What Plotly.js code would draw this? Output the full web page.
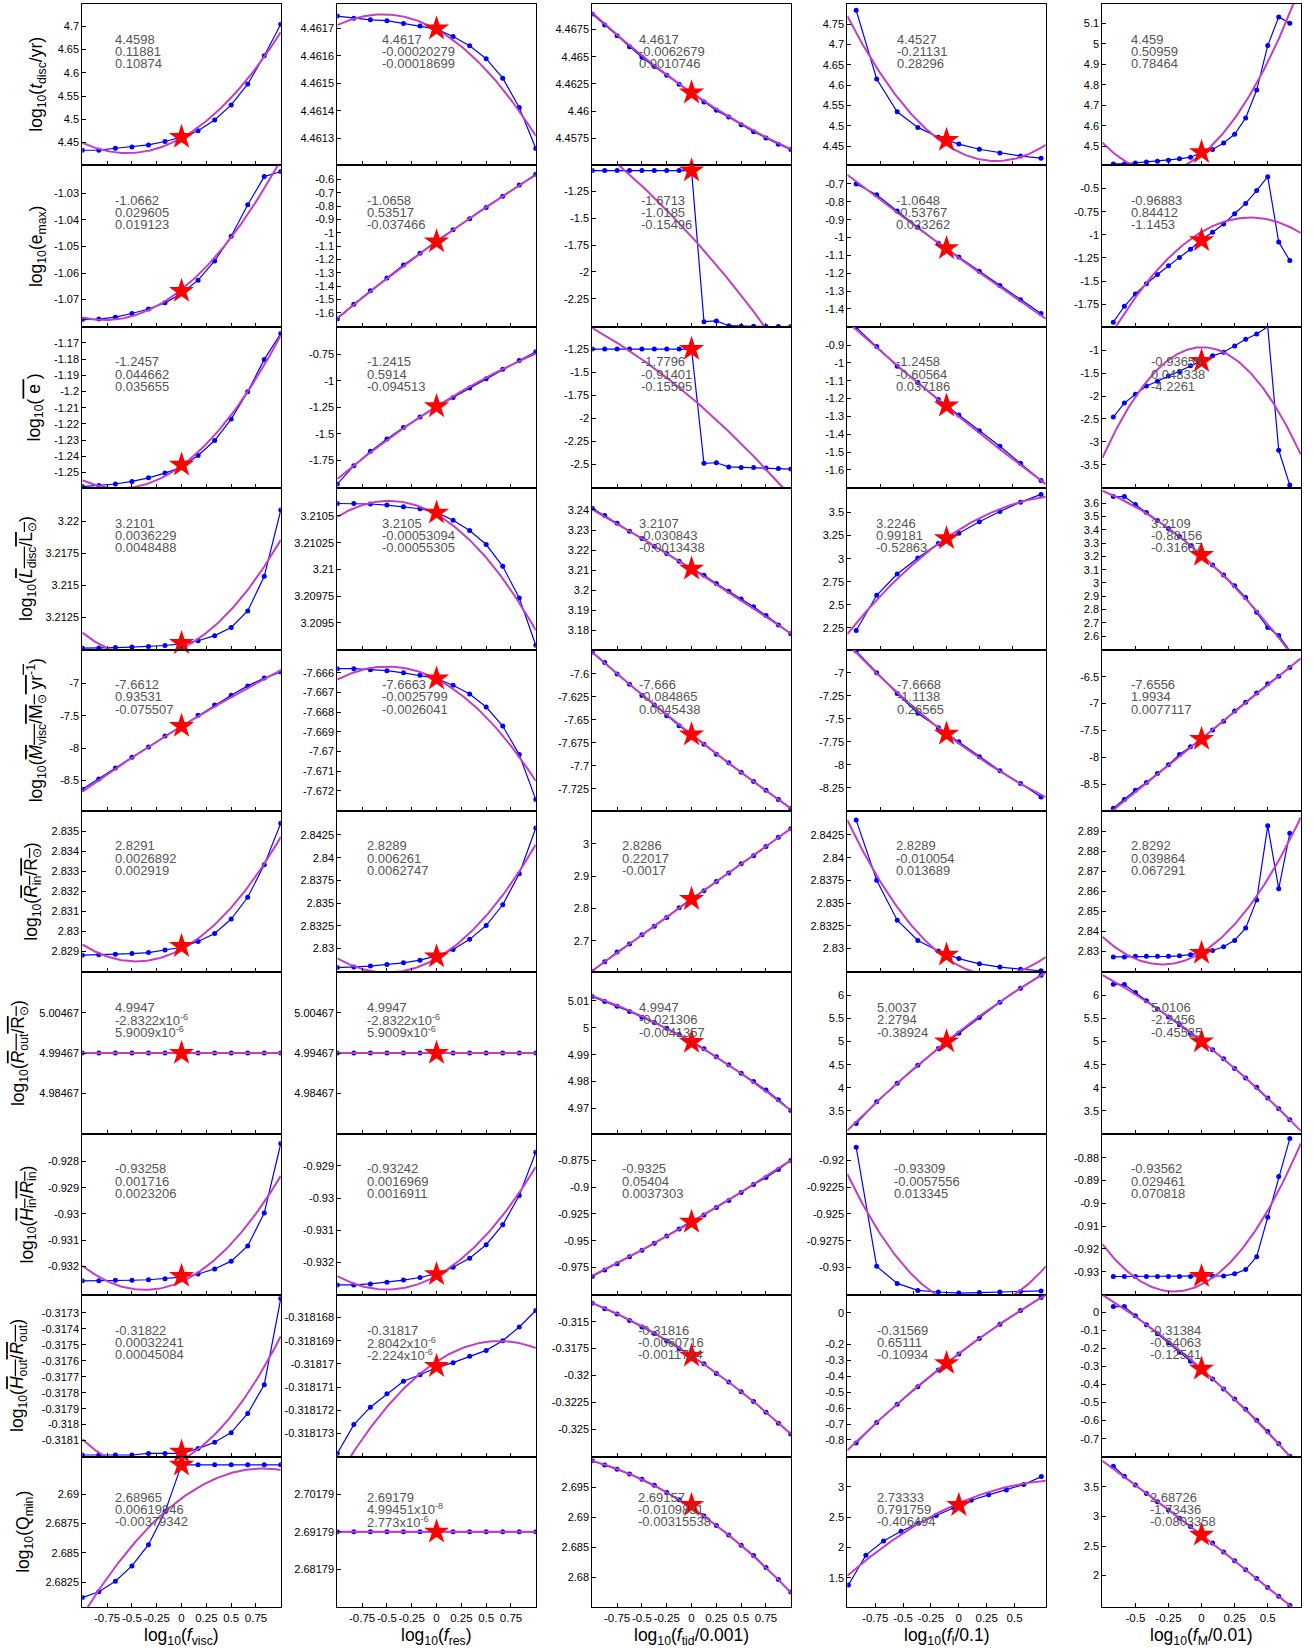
<!DOCTYPE html>
<html><head><meta charset="utf-8">
<script src="https://cdn.plot.ly/plotly-3.0.1.min.js"></script>
<style>html,body{margin:0;padding:0;background:#fff}</style>
</head><body><div id="chart" style="width:1314px;height:1649px"></div>
<script>
// ---------------- DATA ----------------
const X_VISC = [-1, -0.8333, -0.6667, -0.5, -0.3333, -0.1667, 0, 0.1667, 0.3333, 0.5, 0.6667, 0.8333, 1];
const X_RES  = [-1, -0.8333, -0.6667, -0.5, -0.3333, -0.1667, 0, 0.1667, 0.3333, 0.5, 0.6667, 0.8333, 1];
const X_TID  = [-1, -0.875, -0.75, -0.625, -0.5, -0.375, -0.25, -0.125, 0, 0.125, 0.25, 0.375, 0.5, 0.625, 0.75, 0.875, 1];
const X_FL   = [-0.683, -0.528, -0.373, -0.217, -0.062, 0.093, 0.248, 0.403, 0.559, 0.714];
const X_FL_Q = [-0.99, -0.833, -0.675, -0.518, -0.361, -0.203, -0.046, 0.111, 0.268, 0.426, 0.583, 0.74];
const X_FM   = [-0.6667, -0.5833, -0.5, -0.4167, -0.3333, -0.25, -0.1667, -0.0833, 0, 0.0833, 0.1667, 0.25, 0.3333, 0.4167, 0.5, 0.5833, 0.6667];

// column 1 : f_visc
const visc_tdisc = [4.4334, 4.4336, 4.4377, 4.4406, 4.4449, 4.4522, 4.4617, 4.4753, 4.4984, 4.5309, 4.5757, 4.6364, 4.7043];
const visc_emax  = [-1.0775, -1.0773, -1.0766, -1.0752, -1.0735, -1.0712, -1.0677, -1.0627, -1.0555, -1.0462, -1.0344, -1.0238, -1.0219];
const visc_ebar  = [-1.2586, -1.258, -1.257, -1.2554, -1.2532, -1.2503, -1.2465, -1.2394, -1.2302, -1.217, -1.2001, -1.1802, -1.1642];
const visc_ldisc = [3.21012, 3.21012, 3.21016, 3.2102, 3.21024, 3.21032, 3.21044, 3.21069, 3.21109, 3.21173, 3.21302, 3.21573, 3.22089];
const visc_mvisc = [-8.635, -8.475, -8.308, -8.14, -7.981, -7.813, -7.654, -7.494, -7.335, -7.183, -7.04, -6.92, -6.825];
const visc_rin   = [2.82879, 2.82881, 2.82884, 2.82887, 2.82892, 2.82905, 2.82919, 2.82948, 2.82988, 2.8306, 2.83169, 2.83332, 2.8354];
const visc_rout  = [4.99467, 4.99467, 4.99467, 4.99467, 4.99467, 4.99467, 4.99467, 4.99467, 4.99467, 4.99467, 4.99467, 4.99467, 4.99467];
const visc_hin   = [-0.93255, -0.93255, -0.93253, -0.93253, -0.93251, -0.93247, -0.93241, -0.93229, -0.9321, -0.9318, -0.93122, -0.92996, -0.92731];
const visc_hout  = [-0.31819, -0.31819, -0.31819, -0.31819, -0.31818, -0.31818, -0.31818, -0.31815, -0.31811, -0.31805, -0.31793, -0.31775, -0.31721];
const visc_qmin  = [2.6812, 2.6817, 2.6826, 2.6839, 2.6857, 2.6885, 2.6925, 2.6925, 2.6925, 2.6925, 2.6925, 2.6925, 2.6925];
const visc_star  = [4.4617, -1.0668, -1.2452, 3.2105, -7.66, 2.82924, 4.99467, -0.93237, -0.31817, 2.6925];
const visc_a = [4.4598, -1.0662, -1.2457, 3.2101, -7.6612, 2.8291, 4.99467, -0.93258, -0.31822, 2.68965];
const visc_b = [0.11881, 0.029605, 0.044662, 0.0036229, 0.93531, 0.0026892, -2.8322e-6, 0.001716, 0.00032241, 0.00619946];
const visc_c = [0.10874, 0.019123, 0.035655, 0.0048488, -0.075507, 0.002919, 5.9009e-6, 0.0023206, 0.00045084, -0.00379342];
const visc_text = [
  ['4.4598', '0.11881', '0.10874'], ['-1.0662', '0.029605', '0.019123'], ['-1.2457', '0.044662', '0.035655'],
  ['3.2101', '0.0036229', '0.0048488'], ['-7.6612', '0.93531', '-0.075507'], ['2.8291', '0.0026892', '0.002919'],
  ['4.9947', '-2.8322x10<sup>-6</sup>', '5.9009x10<sup>-6</sup>'], ['-0.93258', '0.001716', '0.0023206'],
  ['-0.31822', '0.00032241', '0.00045084'], ['2.68965', '0.00619946', '-0.00379342']];

// column 2 : f_res
const res_tdisc = [4.461746, 4.461738, 4.461732, 4.461729, 4.461719, 4.46171, 4.461698, 4.461671, 4.461637, 4.46159, 4.461519, 4.461412, 4.461262];
const res_emax  = [-1.646, -1.535, -1.435, -1.338, -1.242, -1.154, -1.062, -0.977, -0.896, -0.812, -0.727, -0.642, -0.562];
const res_ebar  = [-1.975, -1.804, -1.667, -1.549, -1.441, -1.343, -1.245, -1.157, -1.069, -0.98, -0.892, -0.809, -0.725];
const res_ldisc = [3.210617, 3.210617, 3.210612, 3.210602, 3.210587, 3.210568, 3.210534, 3.210461, 3.210364, 3.210233, 3.210029, 3.209733, 3.209291];
const res_mvisc = [-7.66579, -7.66579, -7.66584, -7.66589, -7.666, -7.66613, -7.66629, -7.66663, -7.66708, -7.66774, -7.66871, -7.67016, -7.67245];
const res_rin   = [2.82789, 2.82795, 2.82806, 2.82824, 2.82842, 2.82871, 2.82918, 2.82988, 2.831, 2.83252, 2.83481, 2.83822, 2.84326];
const res_rout  = [4.99467, 4.99467, 4.99467, 4.99467, 4.99467, 4.99467, 4.99467, 4.99467, 4.99467, 4.99467, 4.99467, 4.99467, 4.99467];
const res_hin   = [-0.9327, -0.9327, -0.93267, -0.93262, -0.93255, -0.93247, -0.93235, -0.93215, -0.93187, -0.93145, -0.93083, -0.92992, -0.92857];
const res_hout  = [-0.31817386, -0.31817262, -0.31817187, -0.31817129, -0.31817075, -0.31817047, -0.31817016, -0.31816995, -0.31816967, -0.31816942, -0.318169, -0.31816841, -0.3181677];
const res_qmin  = [2.69179, 2.69179, 2.69179, 2.69179, 2.69179, 2.69179, 2.69179, 2.69179, 2.69179, 2.69179, 2.69179, 2.69179, 2.69179];
const res_star  = [4.4617, -1.066, -1.242, 3.21053, -7.6663, 2.8291, 4.99467, -0.93237, -0.3181701, 2.69179];
const res_a = [4.461697, -1.0658, -1.2415, 3.210514, -7.66632, 2.8289, 4.99467, -0.93242, -0.3181699, 2.69179];
const res_b = [-0.00020279, 0.53517, 0.5914, -0.00053094, -0.0025799, 0.006261, -2.8322e-6, 0.0016969, 2.8042e-6, 4.99451e-8];
const res_c = [-0.00018699, -0.037466, -0.094513, -0.00055305, -0.0026041, 0.0062747, 5.9009e-6, 0.0016911, -2.224e-6, 2.773e-6];
const res_text = [
  ['4.4617', '-0.00020279', '-0.00018699'], ['-1.0658', '0.53517', '-0.037466'], ['-1.2415', '0.5914', '-0.094513'],
  ['3.2105', '-0.00053094', '-0.00055305'], ['-7.6663', '-0.0025799', '-0.0026041'], ['2.8289', '0.006261', '0.0062747'],
  ['4.9947', '-2.8322x10<sup>-6</sup>', '5.9009x10<sup>-6</sup>'], ['-0.93242', '0.0016969', '0.0016911'],
  ['-0.31817', '2.8042x10<sup>-6</sup>', '-2.224x10<sup>-6</sup>'], ['2.69179', '4.99451x10<sup>-8</sup>', '2.773x10<sup>-6</sup>']];

// column 3 : f_tid
const tid_tdisc = [4.46894, 4.46793, 4.46693, 4.46592, 4.46496, 4.4641, 4.46329, 4.46247, 4.4617, 4.46084, 4.46007, 4.45945, 4.45874, 4.45811, 4.45754, 4.45696, 4.45648];
const tid_emax  = [-1.058, -1.058, -1.058, -1.058, -1.058, -1.058, -1.058, -1.058, -1.058, -2.462, -2.455, -2.5, -2.505, -2.506, -2.507, -2.507, -2.508];
const tid_ebar  = [-1.25, -1.25, -1.25, -1.25, -1.25, -1.25, -1.25, -1.25, -1.25, -2.489, -2.483, -2.528, -2.534, -2.534, -2.539, -2.545, -2.551];
const tid_ldisc = [3.24077, 3.23716, 3.2333, 3.22943, 3.22582, 3.22196, 3.21835, 3.21448, 3.21113, 3.20753, 3.2034, 3.19954, 3.19567, 3.1918, 3.18742, 3.18278, 3.1784];
const tid_mvisc = [-7.5764, -7.5876, -7.6, -7.6113, -7.6231, -7.6338, -7.6456, -7.6563, -7.6664, -7.6766, -7.6873, -7.6968, -7.707, -7.7171, -7.7267, -7.7368, -7.7464];
const tid_rin   = [2.605, 2.635, 2.665, 2.69, 2.7183, 2.745, 2.7717, 2.8017, 2.8317, 2.855, 2.8833, 2.91, 2.9383, 2.9633, 2.9917, 3.02, 3.0467];
const tid_rout  = [5.0116, 5.0098, 5.008, 5.0061, 5.0039, 5.002, 4.9998, 4.9975, 4.9951, 4.9922, 4.9892, 4.9863, 4.9831, 4.98, 4.9769, 4.9733, 4.9693];
const tid_hin   = [-0.9835, -0.9775, -0.9715, -0.965, -0.959, -0.9525, -0.9455, -0.939, -0.9315, -0.926, -0.919, -0.9125, -0.905, -0.8975, -0.891, -0.8835, -0.875];
const tid_hout  = [-0.3133, -0.3138, -0.3143, -0.3149, -0.3155, -0.3161, -0.3168, -0.3175, -0.3182, -0.3189, -0.3198, -0.3206, -0.3215, -0.3224, -0.3234, -0.3244, -0.3254];
const tid_qmin  = [2.6994, 2.6987, 2.698, 2.6972, 2.6963, 2.6953, 2.6941, 2.6929, 2.6916, 2.6902, 2.6886, 2.687, 2.6853, 2.6836, 2.6816, 2.6796, 2.6775];
const tid_star  = [4.4617, -1.058, -1.25, 3.2107, -7.666, 2.8286, 4.9947, -0.9325, -0.31816, 2.692];
const tid_a = [4.4617, -1.6713, -1.7796, 3.2107, -7.666, 2.8286, 4.9947, -0.9325, -0.31816, 2.69157];
const tid_b = [-0.0062679, -1.0185, -0.91401, -0.030843, -0.084865, 0.22017, -0.021306, 0.05404, -0.0060716, -0.0109831];
const tid_c = [0.0010746, -0.15496, -0.15595, -0.0013438, 0.0045438, -0.0017, -0.0041357, 0.0037303, -0.0011724, -0.00315538];
const tid_text = [
  ['4.4617', '-0.0062679', '0.0010746'], ['-1.6713', '-1.0185', '-0.15496'], ['-1.7796', '-0.91401', '-0.15595'],
  ['3.2107', '-0.030843', '-0.0013438'], ['-7.666', '-0.084865', '0.0045438'], ['2.8286', '0.22017', '-0.0017'],
  ['4.9947', '-0.021306', '-0.0041357'], ['-0.9325', '0.05404', '0.0037303'],
  ['-0.31816', '-0.0060716', '-0.0011724'], ['2.69157', '-0.0109831', '-0.00315538']];

// column 4 : f_l
const fl_tdisc = [4.7846, 4.6154, 4.5346, 4.4962, 4.4718, 4.4551, 4.4423, 4.4333, 4.4256, 4.4205];
const fl_emax  = [-0.7, -0.76, -0.8514, -0.9429, -1.0314, -1.1086, -1.1886, -1.2686, -1.3486, -1.4257];
const fl_ebar  = [-0.8012, -0.9087, -1.0192, -1.1093, -1.2052, -1.2924, -1.3797, -1.4669, -1.5628, -1.6587];
const fl_ldisc = [2.222, 2.603, 2.833, 3.007, 3.164, 3.276, 3.399, 3.511, 3.612, 3.696];
const fl_mvisc = [-6.7635, -7.0, -7.2252, -7.4392, -7.5968, -7.7489, -7.9122, -8.0642, -8.205, -8.3514];
const fl_rin   = [2.84414, 2.83751, 2.83311, 2.83088, 2.82971, 2.82888, 2.8283, 2.82795, 2.82771, 2.82754];
const fl_rout  = [3.23, 3.7, 4.099, 4.486, 4.85, 5.178, 5.519, 5.847, 6.153, 6.434];
const fl_hin   = [-0.91875, -0.9299, -0.9315, -0.93215, -0.9323, -0.9324, -0.93235, -0.9323, -0.93225, -0.9322];
const fl_hout  = [-0.82, -0.69, -0.575, -0.465, -0.36, -0.26, -0.163, -0.073, 0.014, 0.095];
const fl_qmin  = [1.384, 1.875, 2.107, 2.268, 2.4, 2.53, 2.66, 2.78, 2.87, 2.95, 3.04, 3.17];
const fl_star  = [4.465, -1.06, -1.24, 3.22, -7.664, 2.8293, 5.0, null, -0.318, 2.7];
const fl_a = [4.4527, -1.0648, -1.2458, 3.2246, -7.6668, 2.8289, 5.0037, -0.93309, -0.31569, 2.73333];
const fl_b = [-0.21131, -0.53767, -0.60564, 0.99181, -1.1138, -0.010054, 2.2794, -0.0057556, 0.65111, 0.791759];
const fl_c = [0.28296, 0.023262, 0.037186, -0.52863, 0.26565, 0.013689, -0.38924, 0.013345, -0.10934, -0.406494];
const fl_text = [
  ['4.4527', '-0.21131', '0.28296'], ['-1.0648', '-0.53767', '0.023262'], ['-1.2458', '-0.60564', '0.037186'],
  ['3.2246', '0.99181', '-0.52863'], ['-7.6668', '-1.1138', '0.26565'], ['2.8289', '-0.010054', '0.013689'],
  ['5.0037', '2.2794', '-0.38924'], ['-0.93309', '-0.0057556', '0.013345'],
  ['-0.31569', '0.65111', '-0.10934'], ['2.73333', '0.791759', '-0.406494']];

// column 5 : f_M
const fm_tdisc = [4.413, 4.413, 4.418, 4.423, 4.426, 4.431, 4.438, 4.446, 4.469, 4.484, 4.515, 4.558, 4.637, 4.774, 4.991, 5.131, 5.1];
const fm_emax  = [-1.944, -1.772, -1.639, -1.528, -1.428, -1.333, -1.244, -1.156, -1.05, -0.972, -0.883, -0.772, -0.661, -0.522, -0.372, -1.078, -1.278];
const fm_ebar  = [-2.459, -2.154, -1.962, -1.781, -1.679, -1.566, -1.464, -1.339, -1.226, -1.124, -1.045, -0.91, -0.762, -0.649, -0.49, -3.183, -3.941];
const fm_ldisc = [3.65, 3.65, 3.59, 3.53, 3.47, 3.41, 3.35, 3.28, 3.21, 3.135, 3.06, 2.98, 2.89, 2.78, 2.665, 2.605, 2.49];
const fm_mvisc = [-8.948, -8.786, -8.614, -8.471, -8.3, -8.138, -7.948, -7.805, -7.662, -7.49, -7.329, -7.138, -6.976, -6.805, -6.633, -6.49, -6.329];
const fm_rin   = [2.82707, 2.82707, 2.82733, 2.82733, 2.82733, 2.82733, 2.8276, 2.82813, 2.82893, 2.83027, 2.83213, 2.83533, 2.84147, 2.8556, 2.89267, 2.8612, 2.88893];
const fm_rout  = [6.235, 6.23, 6.06, 5.88, 5.7, 5.53, 5.36, 5.18, 5.01, 4.82, 4.63, 4.42, 4.21, 4.01, 3.78, 3.55, 3.31];
const fm_hin   = [-0.93211, -0.93211, -0.93211, -0.93211, -0.93211, -0.93211, -0.93211, -0.93211, -0.93211, -0.93188, -0.93188, -0.93094, -0.92906, -0.92343, -0.90606, -0.88822, -0.87155];
const fm_hout  = [0.03, 0.03, -0.02, -0.07, -0.12, -0.17, -0.222, -0.272, -0.314, -0.37, -0.425, -0.48, -0.537, -0.598, -0.66, -0.728, -0.797];
const fm_qmin  = [3.85, 3.68, 3.53, 3.39, 3.25, 3.11, 2.97, 2.83, 2.69, 2.55, 2.4, 2.25, 2.1, 1.95, 1.8, 1.65, 1.5];
const fm_star  = [4.47, -1.06, -1.24, 3.21, -7.66, 2.829, 5.0, -0.932, -0.314, 2.69];
const fm_a = [4.459, -0.96883, -0.93656, 3.2109, -7.6556, 2.8292, 5.0106, -0.93562, -0.31384, 2.68726];
const fm_b = [0.50959, 0.84412, 0.048338, -0.88156, 1.9934, 0.039864, -2.2456, 0.029461, -0.64063, -1.73436];
const fm_c = [0.78464, -1.1453, -4.2261, -0.31607, 0.0077117, 0.067291, -0.45535, 0.070818, -0.12541, -0.0803358];
const fm_text = [
  ['4.459', '0.50959', '0.78464'], ['-0.96883', '0.84412', '-1.1453'], ['-0.93656', '0.048338', '-4.2261'],
  ['3.2109', '-0.88156', '-0.31607'], ['-7.6556', '1.9934', '0.0077117'], ['2.8292', '0.039864', '0.067291'],
  ['5.0106', '-2.2456', '-0.45535'], ['-0.93562', '0.029461', '0.070818'],
  ['-0.31384', '-0.64063', '-0.12541'], ['2.68726', '-1.73436', '-0.0803358']];

// tick labels
const visc_yticks = [['4.45','4.5','4.55','4.6','4.65','4.7'], ['-1.07','-1.06','-1.05','-1.04','-1.03'],
  ['-1.25','-1.24','-1.23','-1.22','-1.21','-1.2','-1.19','-1.18','-1.17'], ['3.2125','3.215','3.2175','3.22'],
  ['-8.5','-8','-7.5','-7'], ['2.829','2.83','2.831','2.832','2.833','2.834','2.835'], ['4.98467','4.99467','5.00467'],
  ['-0.932','-0.931','-0.93','-0.929','-0.928'], ['-0.3181','-0.318','-0.3179','-0.3178','-0.3177','-0.3176','-0.3175','-0.3174','-0.3173'],
  ['2.6825','2.685','2.6875','2.69']];
const res_yticks = [['4.4613','4.4614','4.4615','4.4616','4.4617'], ['-1.6','-1.5','-1.4','-1.3','-1.2','-1.1','-1','-0.9','-0.8','-0.7','-0.6'],
  ['-1.75','-1.5','-1.25','-1','-0.75'], ['3.2095','3.20975','3.21','3.21025','3.2105'],
  ['-7.672','-7.671','-7.67','-7.669','-7.668','-7.667','-7.666'], ['2.83','2.8325','2.835','2.8375','2.84','2.8425'],
  ['4.98467','4.99467','5.00467'], ['-0.932','-0.931','-0.93','-0.929'],
  ['-0.318173','-0.318172','-0.318171','-0.31817','-0.318169','-0.318168'], ['2.68179','2.69179','2.70179']];
const tid_yticks = [['4.4575','4.46','4.4625','4.465','4.4675'], ['-2.25','-2','-1.75','-1.5','-1.25'],
  ['-2.5','-2.25','-2','-1.75','-1.5','-1.25'], ['3.18','3.19','3.2','3.21','3.22','3.23','3.24'],
  ['-7.725','-7.7','-7.675','-7.65','-7.625','-7.6'], ['2.7','2.8','2.9','3'], ['4.97','4.98','4.99','5','5.01'],
  ['-0.975','-0.95','-0.925','-0.9','-0.875'], ['-0.325','-0.3225','-0.32','-0.3175','-0.315'], ['2.68','2.685','2.69','2.695']];
const fl_yticks = [['4.45','4.5','4.55','4.6','4.65','4.7','4.75'], ['-1.4','-1.3','-1.2','-1.1','-1','-0.9','-0.8','-0.7'],
  ['-1.6','-1.5','-1.4','-1.3','-1.2','-1.1','-1','-0.9'], ['2.25','2.5','2.75','3','3.25','3.5'],
  ['-8.25','-8','-7.75','-7.5','-7.25','-7'], ['2.83','2.8325','2.835','2.8375','2.84','2.8425'], ['3.5','4','4.5','5','5.5','6'],
  ['-0.93','-0.9275','-0.925','-0.9225','-0.92'], ['-0.8','-0.7','-0.6','-0.5','-0.4','-0.3','-0.2','0'], ['1.5','2','2.5','3']];
const fm_yticks = [['4.5','4.6','4.7','4.8','4.9','5','5.1'], ['-1.75','-1.5','-1.25','-1','-0.75','-0.5'],
  ['-3.5','-3','-2.5','-2','-1.5','-1'], ['2.6','2.7','2.8','2.9','3','3.1','3.2','3.3','3.4','3.5','3.6'],
  ['-8.5','-8','-7.5','-7','-6.5'], ['2.83','2.84','2.85','2.86','2.87','2.88','2.89'], ['3.5','4','4.5','5','5.5','6'],
  ['-0.93','-0.92','-0.91','-0.9','-0.89','-0.88'], ['-0.7','-0.6','-0.5','-0.4','-0.3','-0.2','-0.1','0'], ['2','2.5','3','3.5']];
const XTICKS_WIDE = ['-0.75','-0.5','-0.25','0','0.25','0.5','0.75'];
const XTICKS_FL_Q = ['-0.75','-0.5','-0.25','0','0.25','0.5'];
const XTICKS_NARROW = ['-0.5','-0.25','0','0.25','0.5'];

const Y_TITLES = [
  'log<sub>10</sub>(<i>t</i><sub>disc</sub>/yr)',
  'log<sub>10</sub>(e<sub>max</sub>)',
  'log<sub>10</sub>(<span style="text-decoration:overline"> e </span>)',
  'log<sub>10</sub>(<span style="text-decoration:overline"><i>L</i><sub>disc</sub>/L<sub>⊙</sub></span>)',
  'log<sub>10</sub>(<span style="text-decoration:overline"><i>Ṁ</i><sub>visc</sub>/M<sub>⊙</sub> yr<sup>-1</sup></span>)',
  'log<sub>10</sub>(<span style="text-decoration:overline"><i>R</i><sub>in</sub>/R<sub>⊙</sub></span>)',
  'log<sub>10</sub>(<span style="text-decoration:overline"><i>R</i><sub>out</sub>/R<sub>⊙</sub></span>)',
  'log<sub>10</sub>(<span style="text-decoration:overline"><i>H</i><sub>in</sub>/<i>R</i><sub>in</sub></span>)',
  'log<sub>10</sub>(<span style="text-decoration:overline"><i>H</i><sub>out</sub>/<i>R</i><sub>out</sub></span>)',
  'log<sub>10</sub>(Q<sub>min</sub>)'];
const X_TITLES = ['log<sub>10</sub>(<i>f</i><sub>visc</sub>)', 'log<sub>10</sub>(<i>f</i><sub>res</sub>)',
  'log<sub>10</sub>(<i>f</i><sub>tid</sub>/0.001)', 'log<sub>10</sub>(<i>f</i><sub>l</sub>/0.1)', 'log<sub>10</sub>(<i>f</i><sub>M</sub>/0.01)'];

// ---------------- LAYOUT CONFIG ----------------
const W = 1314, H = 1649;
const COL_LEFT = [82.3, 337.3, 592.3, 847.3, 1102.3];
const PANEL_W = 198.5;
const ROW_TOP = [4, 165.4, 326.8, 488.2, 649.6, 811, 972.4, 1133.8, 1295.2, 1456.6];
const ROW_BOT = [165.4, 326.8, 488.2, 649.6, 811, 972.4, 1133.8, 1295.2, 1456.6, 1607];
const YTITLE_X = [38, 37, 35, 28, 36, 33, 19, 28, 19, 25];
const LABEL_DX = [
  [31,31,31,31,31,31,31,31,31,31],
  [43,28,28,43,43,28,28,28,28,28],
  [45,47,47,45,45,28,45,28,44,44],
  [48,47,47,27,48,47,28,45,28,28],
  [27,27,47,47,27,27,47,27,46,46]];
const LABEL_DY = [35, 47.3, 59.6];
const LABEL_DY_LAST = [40.5, 52.8, 65.1];
const Y_RANGE = [
  [[4.4009,4.7477],[-1.0802,-1.0196],[-1.2596,-1.1601],[3.21,3.2226],[-8.97,-6.48],[2.82793,2.83601],[4.97467,5.01467],[-0.9331,-0.92694],[-0.3182,-0.31719],[2.6804,2.6932]],
  [[4.4612,4.46179],[-1.704,-0.496],[-2.015,-0.49],[3.20925,3.21076],[-7.67303,-7.66482],[2.82736,2.84514],[4.97467,5.01467],[-0.93302,-0.928],[-0.318174,-0.31816704],[2.67179,2.71179]],
  [[4.45501,4.46985],[-2.51,-1.0096],[-2.759,-1.008],[3.1705,3.2508],[-7.7492,-7.5735],[2.6017,3.1017],[4.9606,5.0206],[-1.001,-0.85],[-0.3275,-0.31255],[2.675,2.7001]],
  [[4.4026,4.8],[-1.5,-0.596],[-1.702,-0.798],[2.015,3.763],[-8.503,-6.747],[2.82736,2.84514],[3.007,6.493],[-0.9326,-0.9175],[-0.905,0.11],[1.02,3.5]],
  [[4.406,5.194],[-1.994,-0.25],[-4.009,-0.491],[2.499,3.713],[-9.0,-5.995],[2.8193,2.9001],[3.007,6.493],[-0.94033,-0.86944],[-0.799,0.093],[1.47,4.012]]];
const X_RANGE = [[-1,1],[-1,1],[-1,1],[-0.75,0.75],[-0.75,0.75]];
const X_RANGE_FL_Q = [-1.0, 0.78];

const COLUMNS = [
  {x: X_VISC, a: visc_a, b: visc_b, c: visc_c, txt: visc_text, star: visc_star, yt: visc_yticks, xt: XTICKS_WIDE, xtb: XTICKS_WIDE,
   s: [visc_tdisc, visc_emax, visc_ebar, visc_ldisc, visc_mvisc, visc_rin, visc_rout, visc_hin, visc_hout, visc_qmin]},
  {x: X_RES, a: res_a, b: res_b, c: res_c, txt: res_text, star: res_star, yt: res_yticks, xt: XTICKS_WIDE, xtb: XTICKS_WIDE,
   s: [res_tdisc, res_emax, res_ebar, res_ldisc, res_mvisc, res_rin, res_rout, res_hin, res_hout, res_qmin]},
  {x: X_TID, a: tid_a, b: tid_b, c: tid_c, txt: tid_text, star: tid_star, yt: tid_yticks, xt: XTICKS_WIDE, xtb: XTICKS_WIDE,
   s: [tid_tdisc, tid_emax, tid_ebar, tid_ldisc, tid_mvisc, tid_rin, tid_rout, tid_hin, tid_hout, tid_qmin]},
  {x: X_FL, xq: X_FL_Q, a: fl_a, b: fl_b, c: fl_c, txt: fl_text, star: fl_star, yt: fl_yticks, xt: XTICKS_NARROW, xtb: XTICKS_FL_Q,
   s: [fl_tdisc, fl_emax, fl_ebar, fl_ldisc, fl_mvisc, fl_rin, fl_rout, fl_hin, fl_hout, fl_qmin]},
  {x: X_FM, a: fm_a, b: fm_b, c: fm_c, txt: fm_text, star: fm_star, yt: fm_yticks, xt: XTICKS_NARROW, xtb: XTICKS_NARROW,
   s: [fm_tdisc, fm_emax, fm_ebar, fm_ldisc, fm_mvisc, fm_rin, fm_rout, fm_hin, fm_hout, fm_qmin]}];

// ---------------- BUILD ----------------
const FONT = 'Liberation Sans, Arial, Helvetica, sans-serif';
const traces = [];
const layout = {
  width: W, height: H, margin: {l: 0, r: 0, t: 0, b: 0},
  paper_bgcolor: '#ffffff', plot_bgcolor: '#ffffff', showlegend: false,
  font: {family: FONT, color: '#000'}, annotations: [], hovermode: false
};

let k = 0;
for (let r = 0; r < 10; r++) {
  for (let c = 0; c < 5; c++) {
    k++;
    const col = COLUMNS[c];
    const xs = (r === 9 && col.xq) ? col.xq : col.x;
    const xr = (r === 9 && col.xq) ? X_RANGE_FL_Q : X_RANGE[c];
    const xid = 'x' + (k > 1 ? k : ''), yid = 'y' + (k > 1 ? k : '');
    const xkey = 'xaxis' + (k > 1 ? k : ''), ykey = 'yaxis' + (k > 1 ? k : '');
    const left = COL_LEFT[c], top = ROW_TOP[r], bot = ROW_BOT[r];
    const xticks = (r === 9) ? col.xtb : col.xt;
    layout[xkey] = {
      domain: [left / W, (left + PANEL_W) / W], range: xr, anchor: yid,
      showgrid: false, zeroline: false, showline: true, mirror: true, linecolor: '#000', linewidth: 1,
      ticks: 'inside', ticklen: 4, tickwidth: 1, tickcolor: '#000',
      tickmode: 'array', tickvals: xticks.map(Number), ticktext: xticks,
      showticklabels: r === 9, tickangle: 0, tickfont: {size: 11.5, family: FONT, color: '#000'}
    };
    const yt = col.yt[r];
    layout[ykey] = {
      domain: [1 - bot / H, 1 - top / H], range: Y_RANGE[c][r], anchor: xid,
      showgrid: false, zeroline: false, showline: true, mirror: true, linecolor: '#000', linewidth: 1,
      ticks: 'inside', ticklen: 4, tickwidth: 1, tickcolor: '#000',
      tickmode: 'array', tickvals: yt.map(Number), ticktext: yt,
      tickfont: {size: 11, family: FONT, color: '#000'}
    };
    // data series
    traces.push({type: 'scatter', mode: 'lines+markers', x: xs, y: col.s[r], xaxis: xid, yaxis: yid,
      line: {color: '#0000ff', width: 1.2}, marker: {color: '#0000ff', size: 5}});
    // quadratic fit with the coefficients printed in the panel
    const fx = [], fy = [];
    const n = 120;
    for (let i = 0; i <= n; i++) {
      const xv = xr[0] + (xr[1] - xr[0]) * i / n;
      fx.push(xv);
      fy.push(col.a[r] + col.b[r] * xv + col.c[r] * xv * xv);
    }
    traces.push({type: 'scatter', mode: 'lines', x: fx, y: fy, xaxis: xid, yaxis: yid,
      line: {color: '#c23ec2', width: 2}});
    if (col.star[r] !== null) {
      traces.push({type: 'scatter', mode: 'markers', x: [0], y: [col.star[r]], xaxis: xid, yaxis: yid,
        cliponaxis: false, marker: {symbol: 'star', size: 19, color: '#ff0000', line: {width: 0}}});
    }
    // coefficient labels
    const dys = (r === 9) ? LABEL_DY_LAST : LABEL_DY;
    for (let j = 0; j < 3; j++) {
      layout.annotations.push({xref: 'paper', yref: 'paper', x: (left + LABEL_DX[c][r]) / W, y: 1 - (top + dys[j]) / H,
        xanchor: 'left', yanchor: 'middle', showarrow: false, text: col.txt[r][j],
        font: {size: 13, family: FONT, color: '#555555'}});
    }
  }
}
// y titles
for (let r = 0; r < 10; r++) {
  layout.annotations.push({xref: 'paper', yref: 'paper', x: YTITLE_X[r] / W, y: 1 - (ROW_TOP[r] + ROW_BOT[r]) / 2 / H,
    xanchor: 'center', yanchor: 'middle', textangle: -90, showarrow: false, text: Y_TITLES[r],
    font: {size: 17.5, family: FONT, color: '#000'}});
}
// x titles
for (let c = 0; c < 5; c++) {
  layout.annotations.push({xref: 'paper', yref: 'paper', x: (COL_LEFT[c] + PANEL_W / 2) / W, y: 1 - 1636 / H,
    xanchor: 'center', yanchor: 'middle', showarrow: false, text: X_TITLES[c],
    font: {size: 17.5, family: FONT, color: '#000'}});
}

Plotly.newPlot('chart', traces, layout, {staticPlot: true, displayModeBar: false});
</script></body></html>
